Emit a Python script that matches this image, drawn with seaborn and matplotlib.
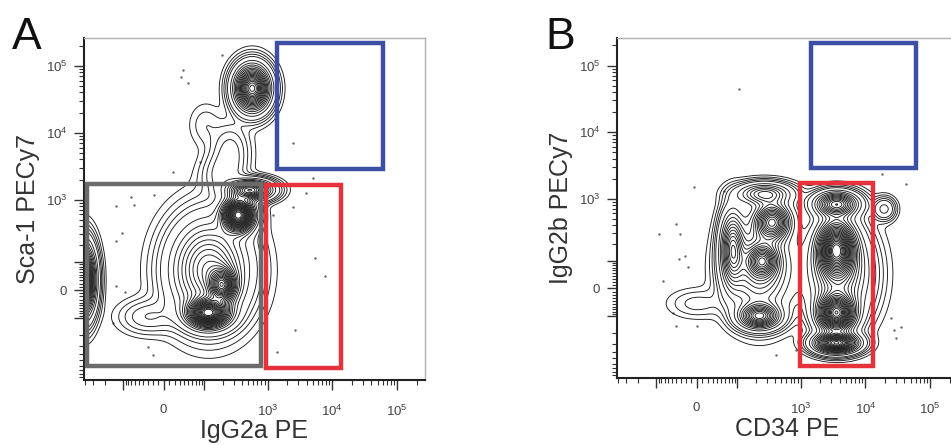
import numpy as np
import matplotlib
matplotlib.use("Agg")
import matplotlib.pyplot as plt
import seaborn as sns
from matplotlib.patches import Rectangle

sns.set_style("ticks")
plt.rcParams["font.family"] = ["Liberation Sans", "DejaVu Sans"]
plt.rcParams["mathtext.fontset"] = "custom"
plt.rcParams["mathtext.rm"] = "Liberation Sans"
plt.rcParams["mathtext.it"] = "Liberation Sans"

# asinh display cofactors (biexponential-like axes)
X_COF = 50
Y_COF = 90
XLIM = (-420, 268000)
YLIM = (-990, 259000)

# ---- panel A: populations (centre in data units, spread in display units, peak height)
a_cx = [580, 265, 199, 105, 355, 545, 120, 117, 199, -430, -30]
a_cy = [46000, 5500, 2340, 13000, 590, 1400, 67, -79, 15, 32, -95]
a_sx = [0.36, 0.4, 0.45, 0.35, 0.33, 0.45, 0.8, 0.42, 0.28, 0.25, 0.6]
a_sy = [0.45, 0.55, 0.45, 0.45, 0.33, 0.2, 1.0, 0.28, 0.33, 0.7, 0.35]
a_h = [0.8, 0.05, 0.05, 0.015, 1.0, 0.6, 0.42, 0.9, 0.6, 0.8, 0.04]

# outlier events in panel A
a_dot_x = [199, 38, 32, 48, 2500, 86, 18, 5050, 3980, 2500, -73, -18, -132, -64,
           -105, -132, 5450, 7750, -132, -93, 2690, 1420, -20, -30, -148, 1235]
a_dot_y = [145000, 86400, 68000, 55000, 7000, 3670, 2600, 2100, 1260, 775, 1100, 1180,
           807, 832, 313, 234, 120, 45, 12, -6, -166, -375, -415, -313, -126, 590]

# ---- panel B
b_cx = [366, 230, 82, 257, 230, 275, 0, 3570, 3570, 3570, 3600, 3980, 19500]
b_cy = [445, -100, 165, 100, 67, 1180, -49, 165, -87, -290, 830, 48, 700]
b_sx = [0.38, 0.42, 0.25, 0.32, 0.65, 0.55, 0.6, 0.38, 0.38, 0.45, 0.45, 0.65, 0.22]
b_sy = [0.38, 0.25, 0.75, 0.32, 0.9, 0.22, 0.3, 0.55, 0.38, 0.2, 0.25, 0.95, 0.22]
b_h = [0.7, 0.6, 0.5, 0.5, 0.38, 0.35, 0.025, 1.0, 1.0, 0.9, 0.6, 0.35, 0.12]

b_dot_x = [109, -4, 58, -39, -90, -32, -22, -34, -76, -16, -48, -39, 0,
           18200, 42500, 25000, 35500, 28000, 30000, 860, 410]
b_dot_y = [45000, 1500, 1310, 415, 290, 290, 126, 110, 22, 75, -87, -154, -154,
           2340, 1660, -110, -160, -180, -243, -375, -445]

# gates: x0, x1, y0, y1, colour
a_gates = [(-380, 800, -610, 1720, "#6b6b6b"),
           (960, 13700, -650, 1650, "#e5323b"),
           (1420, 60000, 2880, 219000, "#3d4fa3")]
b_gates = [(990, 13200, -650, 1700, "#e5323b"),
           (1460, 60000, 2880, 219000, "#3d4fa3")]

x_major = [0, 1e3, 1e4, 1e5]
x_major_labels = ["0", "$10^3$", "$10^4$", "$10^5$"]
y_major = [0, 1e3, 1e4, 1e5]
y_major_labels = ["0", "$10^3$", "$10^4$", "$10^5$"]


def density(cx, cy, sx, sy, h, U, V):
    z = np.zeros_like(U)
    for x0, y0, a, b, k in zip(cx, cy, sx, sy, h):
        u0 = np.arcsinh(x0 / X_COF)
        v0 = np.arcsinh(y0 / Y_COF)
        z += k * np.exp(-0.5 * (((U - u0) / a) ** 2 + ((V - v0) / b) ** 2))
    return z / z.max()


def minor_ticks(lo, hi, majors):
    out = []
    for n in range(1, 6):
        for k in range(1, 10):
            for s in (1, -1):
                t = s * k * 10 ** n
                if lo < t < hi and t not in majors:
                    out.append(t)
    return out


u = np.linspace(np.arcsinh(XLIM[0] / X_COF), np.arcsinh(XLIM[1] / X_COF), 400)
v = np.linspace(np.arcsinh(YLIM[0] / Y_COF), np.arcsinh(YLIM[1] / Y_COF), 400)
U, V = np.meshgrid(u, v)
GX = X_COF * np.sinh(U)
GY = Y_COF * np.sinh(V)
# a few outlier contours, then equal-probability style steps
levels = np.concatenate([[0.004, 0.009, 0.016, 0.026], np.linspace(0.04, 0.94, 24)])

fig = plt.figure(figsize=(9.51, 4.45), dpi=100)
ax_a = fig.add_axes([0.0883, 0.146, 0.3586, 0.7685])
ax_b = fig.add_axes([0.6488, 0.1506, 0.3586, 0.764])

panels = [
    (ax_a, a_cx, a_cy, a_sx, a_sy, a_h, a_dot_x, a_dot_y, a_gates, "IgG2a PE", "Sca-1 PECy7"),
    (ax_b, b_cx, b_cy, b_sx, b_sy, b_h, b_dot_x, b_dot_y, b_gates, "CD34 PE", "IgG2b PECy7"),
]

for ax, cx, cy, sx, sy, h, dx, dy, gates, xl, yl in panels:
    ax.set_xscale("function", functions=(lambda t: np.arcsinh(t / X_COF), lambda t: X_COF * np.sinh(t)))
    ax.set_yscale("function", functions=(lambda t: np.arcsinh(t / Y_COF), lambda t: Y_COF * np.sinh(t)))
    z = density(cx, cy, sx, sy, h, U, V)
    ax.contour(GX, GY, z, levels=levels, colors="#1a1a1a", linewidths=0.65)
    sns.scatterplot(x=dx, y=dy, ax=ax, s=3, color="#666666", linewidth=0)
    for x0, x1, y0, y1, col in gates:
        ax.add_patch(Rectangle((x0, y0), x1 - x0, y1 - y0, fill=False, edgecolor=col, linewidth=3.2, zorder=5))
    ax.set_xlim(*XLIM)
    ax.set_ylim(*YLIM)
    ax.set_xticks(x_major + [100, -100])
    ax.set_xticklabels(x_major_labels + ["", ""])
    ax.set_yticks(y_major + [100, -100])
    ax.set_yticklabels(y_major_labels + ["", ""])
    ax.set_xticks(minor_ticks(*XLIM, x_major + [100, -100]), minor=True)
    ax.set_yticks(minor_ticks(*YLIM, y_major + [100, -100]), minor=True)
    ax.tick_params(which="major", length=7, width=1, color="#333333", labelsize=9.5, labelcolor="#444444")
    ax.tick_params(which="minor", length=3.5, width=0.8, color="#333333")
    ax.tick_params(axis="x", which="major", pad=10)
    ax.tick_params(axis="y", which="major", pad=5)
    for s in ("left", "bottom"):
        ax.spines[s].set_color("#222222")
        ax.spines[s].set_linewidth(1.5)
    for s in ("top", "right"):
        ax.spines[s].set_color("#b0b0b0")
        ax.spines[s].set_linewidth(1.0)
    ax.set_xlabel(xl, fontsize=18, color="#333333", labelpad=0)
    ax.set_ylabel(yl, fontsize=18, color="#333333", labelpad=4)

fig.text(0.012, 0.89, "A", fontsize=32, color="#111111")
fig.text(0.573, 0.89, "B", fontsize=32, color="#111111")

fig.savefig("out.png", dpi=100)
